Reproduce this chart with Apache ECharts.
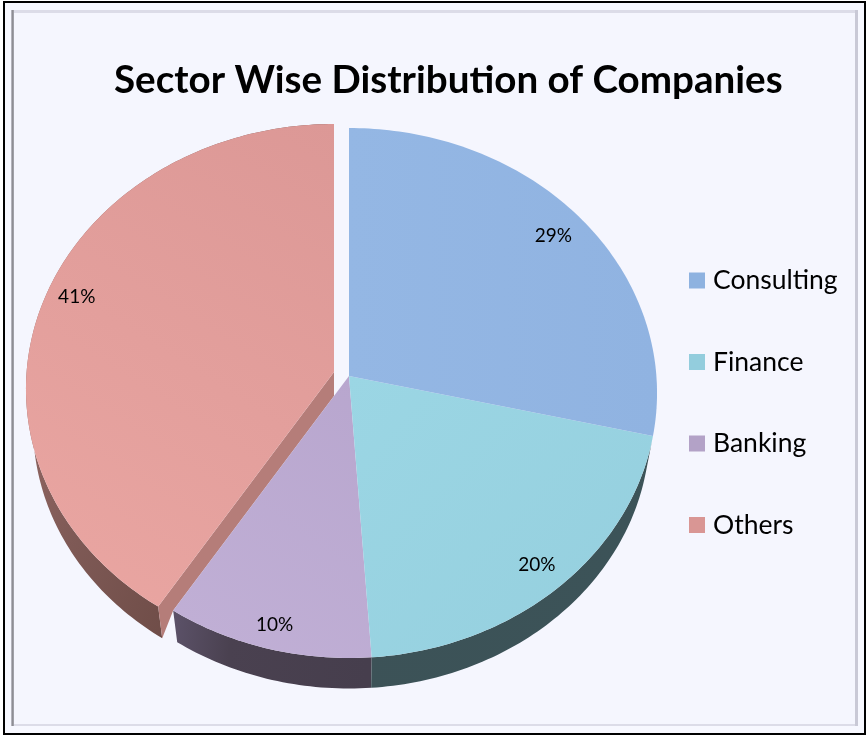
<!DOCTYPE html>
<html>
<head>
<meta charset="utf-8">
<style>html,body{margin:0;padding:0;background:#fff}#c{width:868px;height:737px}</style>
<script src="https://cdn.jsdelivr.net/npm/echarts@6/dist/echarts.min.js"></script>
</head>
<body>
<div id="c"></div>
<script>
// ---- data ----
const categories = ['Consulting', 'Finance', 'Banking', 'Others'];
const values = [28.6, 20.3, 10.2, 40.9];
const percentLabels = ['29%', '20%', '10%', '41%'];
const chartTitle = 'Sector Wise Distribution of Companies';

// ---- styling ----
const legendColors = ['#8eb2e0', '#93cddd', '#b3a2c7', '#d99694'];
const topFills = [
  [[0, '#94b7e4'], [1, '#90b3e1']],
  [[0, '#9bd6e4'], [1, '#95cfde']],
  [[0, '#c1b0d6'], [1, '#b8a6ce']],
  [[0, '#dc9896'], [1, '#eaa6a2']]
];
const wallFills = [
  null,
  [[0, '#3c5257'], [1, '#3c5358']],
  [[0, '#5c5269'], [0.3, '#4a4150'], [1, '#463e4d']],
  [[0, '#a87470'], [0.6, '#7f5a56'], [1, '#6e4c47']]
];
const stripFill = '#b57d79';
const labelRadius = [0.88, 0.90, 0.917, 0.9];
const labelTurn = [0, 0, 0, 0.0065];

// pie geometry: a perspective view of a disc
const cx = 349, cy = 376, A = 307.4, B = 263.9, P = 0.0642;
const bottomScale = 0.977, bottomDrop = 37;
const explodeX = [0, 0, 0, -15], explodeY = [0, 0, 0, -4];

const total = values.reduce((a, b) => a + b, 0);
const startFrac = [];
values.reduce((acc, v, i) => { startFrac[i] = acc / total; return acc + v; }, 0);

function project(frac, r, dx, dy, s, drop) {
  const t = frac * 2 * Math.PI, u = Math.sin(t) * r, v = Math.cos(t) * r;
  const w = 1 + P * v;
  return [cx + dx + s * A * u / w, cy + dy + drop - s * B * v / w];
}
function arc(f0, f1, dx, dy, s, drop) {
  const out = [], n = Math.max(8, Math.ceil((f1 - f0) * 360));
  for (let k = 0; k <= n; k++) out.push(project(f0 + (f1 - f0) * k / n, 1, dx, dy, s, drop));
  return out;
}
function grad(stops, x, y, x2, y2) {
  return new echarts.graphic.LinearGradient(x, y, x2, y2, stops.map(s => ({ offset: s[0], color: s[1] })));
}
const topDir = [[0, 0, 1, 0], [0, 0, 1, 1], [0, 1, 1, 0], [1, 0, 0, 1]];

function sliceRenderer(i) {
  return function (params, api) {
    const f0 = startFrac[i], f1 = f0 + api.value(0) / total;
    const dx = explodeX[i], dy = explodeY[i];
    const children = [];
    if (wallFills[i]) {
      const upper = arc(f0, f1, dx, dy, 1, 0);
      const lower = arc(f0, f1, dx, dy, bottomScale, bottomDrop);
      children.push({
        type: 'polygon', shape: { points: upper.concat(lower.reverse()) },
        style: { fill: grad(wallFills[i], 0, 0, 1, 0.25) }, z2: 1
      });
    }
    if (i === 3) {
      // cut face of the pulled-out slice; the next slice's top covers its inner part
      const p0 = project(f0, 1, dx, dy, 1, 0);
      const p1 = project(f0, 1, dx, dy, bottomScale, bottomDrop);
      const edge = project(f0, 1, 0, 0, 1, 0);
      const apex = [cx + dx, cy + dy];
      const t = dx / (edge[0] - cx);
      const inner = [cx + dx, cy + (edge[1] - cy) * t];
      children.push({
        type: 'polygon', shape: { points: [p0, p1, edge, inner, apex] },
        style: { fill: stripFill }, z2: 2
      });
    }
    const top = [[cx + dx, cy + dy]].concat(arc(f0, f1, dx, dy, 1, 0));
    const d = topDir[i];
    children.push({
      type: 'polygon', shape: { points: top },
      style: { fill: grad(topFills[i], d[0], d[1], d[2], d[3]) }, z2: 3
    });
    const mid = (f0 + f1) / 2 + labelTurn[i];
    const lp = project(mid, labelRadius[i], dx, dy, 1, 0);
    children.push({
      type: 'text', x: lp[0], y: lp[1], z2: 4,
      style: {
        text: percentLabels[i], fill: '#000', align: 'center', verticalAlign: 'middle',
        font: '19px Lato, "Noto Sans", sans-serif'
      }
    });
    return { type: 'group', children: children };
  };
}

function bar(x, y, w, h, fill) {
  return { type: 'rect', z: -5, shape: { x: x, y: y, width: w, height: h }, style: { fill: fill }, silent: true };
}
const frame = [
  bar(3, 1, 863, 734, '#000000'),
  bar(5, 3, 859, 730, '#f7f8ff'),
  bar(11, 10, 847, 716, '#dcdce8'),
  { type: 'rect', z: -5, shape: { x: 11, y: 10, width: 3, height: 716 }, silent: true,
    style: { fill: new echarts.graphic.LinearGradient(0, 0, 1, 0, [{ offset: 0, color: '#c5c5cf' }, { offset: 0.5, color: '#8e8e94' }, { offset: 1, color: '#a9a9b2' }]) } },
  bar(855, 10, 3, 716, '#c9c9d6'),
  bar(14, 13, 841, 711, '#f5f6fe')
];

const chart = echarts.init(document.getElementById('c'), null, { renderer: 'canvas' });
chart.setOption({
  animation: false,
  backgroundColor: '#ffffff',
  title: {
    text: chartTitle, left: 114, top: 61, padding: 0,
    textStyle: { fontFamily: 'Lato', fontWeight: 'bold', fontSize: 38.6, color: '#000' }
  },
  legend: {
    orient: 'vertical', left: 689, top: 267, padding: 0, itemWidth: 16, itemHeight: 16, itemGap: 54.5,
    icon: 'rect', selectedMode: false, data: categories,
    textStyle: { fontFamily: 'Lato', fontSize: 26.5, color: '#000', lineHeight: 16, padding: [0, 0, 0, 3] }
  },
  graphic: { elements: frame },
  tooltip: { show: false },
  series: categories.map((name, i) => ({
    type: 'custom', name: name, coordinateSystem: 'none', silent: true,
    z: [4, 3, 2, 1][i] + 2,
    itemStyle: { color: legendColors[i] },
    renderItem: sliceRenderer(i),
    data: [[values[i]]]
  }))
});
</script>
</body>
</html>
